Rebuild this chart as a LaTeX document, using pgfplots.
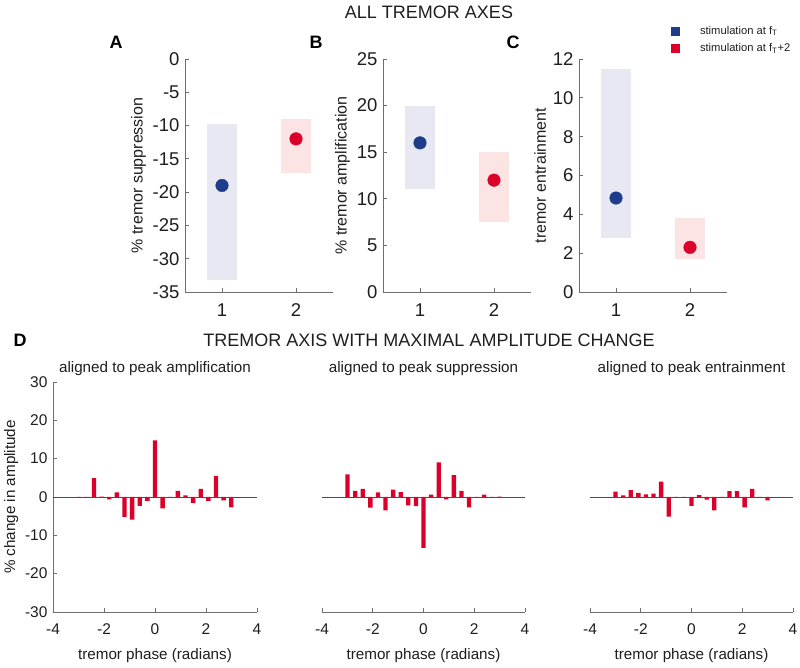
\documentclass[border=0pt]{standalone}
\usepackage{fontspec}
\setmainfont{Liberation Sans}
\usepackage{pgfplots}
\pgfplotsset{compat=1.18}

\definecolor{dblue}{RGB}{30,62,140}
\definecolor{dred}{RGB}{218,0,42}
\definecolor{lblue}{RGB}{232,232,242}
\definecolor{lred}{RGB}{253,228,228}
\definecolor{axgray}{RGB}{110,110,110}
\definecolor{txt}{RGB}{30,30,30}

\pgfplotsset{
  base/.style={scale only axis, axis lines=left, axis line style={-, axgray, line width=0.7pt},
    tick style={axgray, line width=0.7pt}, tick align=inside, major tick length=4pt,
    /pgf/number format/assume math mode=true, clip=false,
    every tick label/.append style={text=txt}, every axis label/.append style={text=txt},
    yticklabel style={xshift=-2pt}, xticklabel style={yshift=-8pt}},
  topax/.style={base, width=148pt, height=233pt, xmin=0.5, xmax=2.5, xtick={1,2},
    tick label style={font=\fontsize{18.5}{20}\selectfont},
    label style={font=\fontsize{16}{18}\selectfont}},
  botax/.style={base, width=203pt, height=230pt, xmin=-4, xmax=4, ymin=-30, ymax=30,
    xtick={-4,-2,0,2,4}, ytick={-30,-20,...,30},
    tick label style={font=\fontsize{15.5}{17}\selectfont},
    label style={font=\fontsize{15.2}{17}\selectfont},
    xlabel style={yshift=-7pt},
    title style={font=\fontsize{15.2}{17}\selectfont, text=txt, yshift=-3pt},
    xlabel={tremor phase (radians)}},
}

\begin{document}
\begin{tikzpicture}
\useasboundingbox (0,0) rectangle (800pt,668pt);

% ---------- A ----------
\begin{axis}[topax, at={(185pt,376pt)}, anchor=south west,
  ymin=-35, ymax=0, ytick={-35,-30,...,0}, ylabel={\% tremor suppression}]
\addplot[fill=lblue, draw=none, forget plot] coordinates {(0.8,-33.2) (0.8,-9.8) (1.2,-9.8) (1.2,-33.2)} -- cycle;
\addplot[fill=lred, draw=none, forget plot] coordinates {(1.8,-17.2) (1.8,-9.0) (2.2,-9.0) (2.2,-17.2)} -- cycle;
\addplot[only marks, mark=*, mark size=6.3, dblue, forget plot] coordinates {(1,-19)};
\addplot[only marks, mark=*, mark size=6.3, dred, forget plot] coordinates {(2,-12)};
\end{axis}

% ---------- B ----------
\begin{axis}[topax, at={(383pt,376pt)}, anchor=south west,
  ymin=0, ymax=25, ytick={0,5,...,25}, ylabel={\% tremor amplification}]
\addplot[fill=lblue, draw=none, forget plot] coordinates {(0.8,11) (0.8,20) (1.2,20) (1.2,11)} -- cycle;
\addplot[fill=lred, draw=none, forget plot] coordinates {(1.8,7.5) (1.8,15) (2.2,15) (2.2,7.5)} -- cycle;
\addplot[only marks, mark=*, mark size=6.3, dblue, forget plot] coordinates {(1,16)};
\addplot[only marks, mark=*, mark size=6.3, dred, forget plot] coordinates {(2,12)};
\end{axis}

% ---------- C ----------
\begin{axis}[topax, at={(579pt,376pt)}, anchor=south west,
  ymin=0, ymax=12, ytick={0,2,...,12}, ylabel={tremor entrainment},
  legend style={at={(axis description cs:0.6,1.16)}, anchor=north west, draw=none, fill=none,
    font=\fontsize{11.2}{14}\selectfont, row sep=4pt, text=txt},
  legend cell align=left]
\addlegendimage{only marks, mark=square*, mark size=4, dblue}
\addlegendentry{\hspace{19pt}stimulation at f\textsubscript{T}}
\addlegendimage{only marks, mark=square*, mark size=4, dred}
\addlegendentry{\hspace{19pt}stimulation at f\textsubscript{T}+2}
\addplot[fill=lblue, draw=none, forget plot] coordinates {(0.8,2.8) (0.8,11.5) (1.2,11.5) (1.2,2.8)} -- cycle;
\addplot[fill=lred, draw=none, forget plot] coordinates {(1.8,1.7) (1.8,3.8) (2.2,3.8) (2.2,1.7)} -- cycle;
\addplot[only marks, mark=*, mark size=6.3, dblue, forget plot] coordinates {(1,4.84)};
\addplot[only marks, mark=*, mark size=6.3, dred, forget plot] coordinates {(2,2.3)};
\end{axis}

% ---------- D1 ----------
\begin{axis}[botax, at={(53pt,56pt)}, anchor=south west, width=204pt,
  ylabel={\% change in amplitude}, title={aligned to peak amplification}]
\addplot[ybar, bar width=0.17, fill=dred, draw=none, forget plot] table {
x y
-2.9920 0
-2.6928 0
-2.3936 4.9
-2.0944 0.1
-1.7952 -0.6
-1.4960 1.2
-1.1968 -5.2
-0.8976 -5.9
-0.5984 -2.3
-0.2992 -1.0
0 14.8
0.2992 -3.0
0.5984 0
0.8976 1.6
1.1968 0.4
1.4960 -1.6
1.7952 2.1
2.0944 -1.0
2.3936 5.5
2.6928 -0.9
2.9920 -2.7
};
\addplot[axgray!70!black, line width=0.9pt, forget plot] coordinates {(-4,0) (4,0)};
\end{axis}

% ---------- D2 ----------
\begin{axis}[botax, at={(322pt,56pt)}, anchor=south west,
  axis y line=none, ytick=\empty, title={aligned to peak suppression}]
\addplot[ybar, bar width=0.17, fill=dred, draw=none, forget plot] table {
x y
-2.9920 5.9
-2.6928 1.6
-2.3936 2.1
-2.0944 -2.8
-1.7952 1.2
-1.4960 -3.5
-1.1968 1.9
-0.8976 1.3
-0.5984 -2.2
-0.2992 -2.4
0 -13.3
0.2992 0.6
0.5984 9.0
0.8976 -0.6
1.1968 5.7
1.4960 1.6
1.7952 -2.7
2.0944 0
2.3936 0.6
2.6928 0
2.9920 0.1
};
\addplot[axgray!70!black, line width=0.9pt, forget plot] coordinates {(-4,0) (4,0)};
\end{axis}

% ---------- D3 ----------
\begin{axis}[botax, at={(590pt,56pt)}, anchor=south west,
  axis y line=none, ytick=\empty, title={aligned to peak entrainment}]
\addplot[ybar, bar width=0.17, fill=dred, draw=none, forget plot] table {
x y
-2.9920 1.4
-2.6928 0.4
-2.3936 1.8
-2.0944 1.1
-1.7952 0.7
-1.4960 0.9
-1.1968 4.0
-0.8976 -5.1
-0.5984 0
-0.2992 0
0 -2.3
0.2992 0.5
0.5984 -0.7
0.8976 -3.5
1.1968 0
1.4960 1.5
1.7952 1.5
2.0944 -2.7
2.3936 2.1
2.6928 0
2.9920 -0.9
};
\addplot[axgray!70!black, line width=0.9pt, forget plot] coordinates {(-4,0) (4,0)};
\end{axis}

% ---------- texts ----------
\node[font=\fontsize{18}{20}\selectfont, text=txt] at (429pt,656pt) {ALL TREMOR AXES};
\node[font=\fontsize{18}{20}\selectfont, text=txt] at (429pt,328pt) {TREMOR AXIS WITH MAXIMAL AMPLITUDE CHANGE};
\node[font=\fontsize{18}{20}\selectfont\bfseries] at (116pt,626pt) {A};
\node[font=\fontsize{18}{20}\selectfont\bfseries] at (316pt,626pt) {B};
\node[font=\fontsize{18}{20}\selectfont\bfseries] at (513pt,626pt) {C};
\node[font=\fontsize{18}{20}\selectfont\bfseries] at (20pt,328pt) {D};
\end{tikzpicture}
\end{document}
